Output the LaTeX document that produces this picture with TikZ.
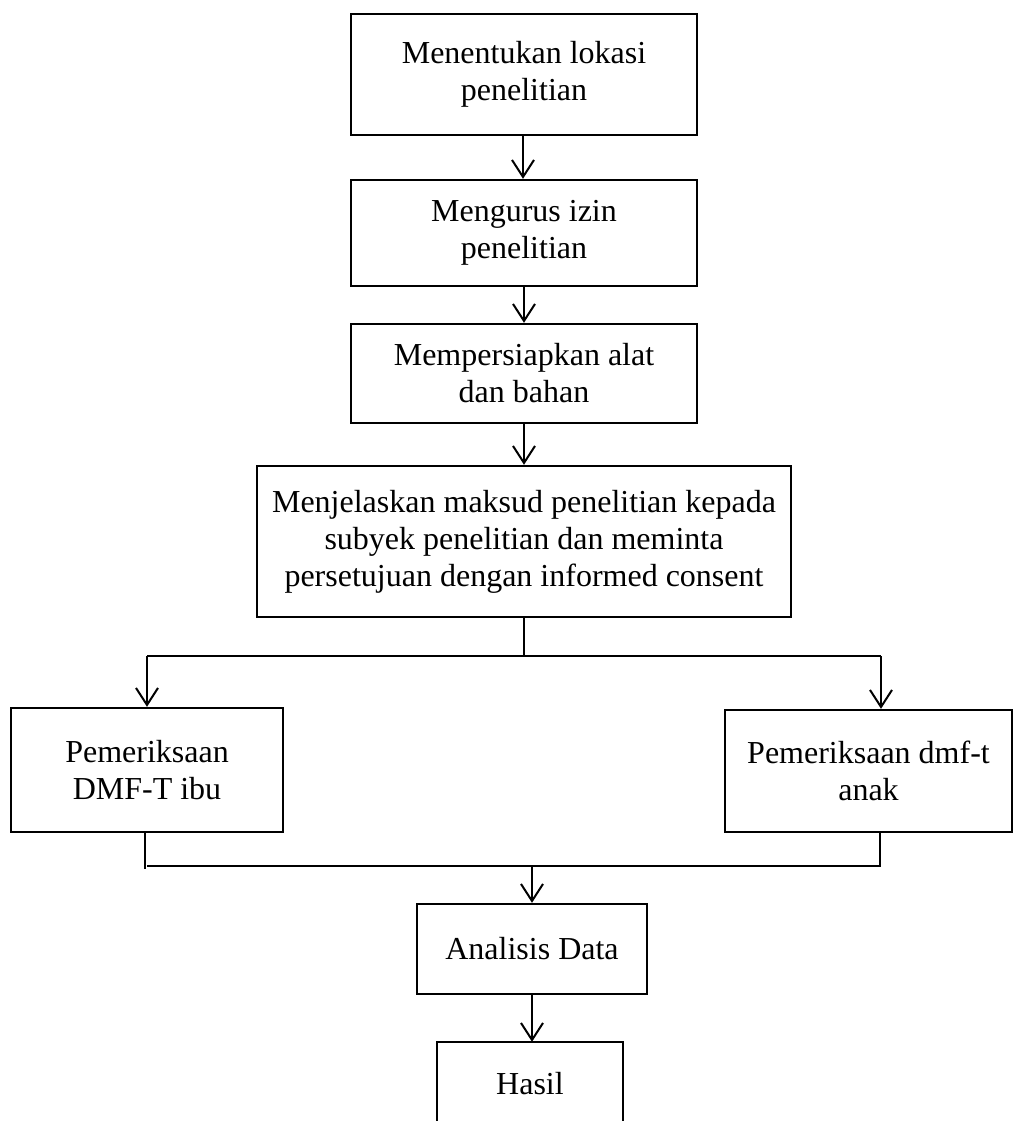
\documentclass[tikz,border=0pt]{standalone}
\usepackage{fontspec}
\setmainfont{Liberation Serif}
\usetikzlibrary{arrows.meta}
\begin{document}
\begin{tikzpicture}[x=1pt,y=-1pt,
  box/.style={draw,line width=2.4pt,inner sep=0pt,align=center,
    font=\fontsize{32pt}{37pt}\selectfont},
  openbox/.style={inner sep=0pt,align=center,
    font=\fontsize{32pt}{37pt}\selectfont},
  conn/.style={line width=2pt},
  arr/.style={line width=2pt,-{Straight Barb[length=17pt,width=22pt,line width=2pt]}}]
\useasboundingbox (0,0) rectangle (1014,1121);
% boxes
\node[box,minimum width=346pt,minimum height=121pt] (b1) at (524,74.5) {Menentukan lokasi\\penelitian};
\node[box,minimum width=346pt,minimum height=106pt] (b2) at (524,233) {Mengurus izin\\penelitian};
\node[box,minimum width=346pt,minimum height=99pt] (b3) at (524,373.5) {Mempersiapkan alat\\dan bahan};
\node[box,minimum width=534pt,minimum height=151pt] (b4) at (524,541.5) {Menjelaskan maksud penelitian kepada\\subyek penelitian dan meminta\\persetujuan dengan informed consent};
\node[box,minimum width=272pt,minimum height=124pt] (b5) at (147,770) {Pemeriksaan\\DMF-T ibu};
\node[box,minimum width=287pt,minimum height=122pt] (b6) at (868.5,771) {Pemeriksaan dmf-t\\anak};
\node[box,minimum width=230pt,minimum height=90pt] (b7) at (532,949) {Analisis Data};
\node[openbox,minimum width=186pt,minimum height=83pt] (b8) at (530,1083.5) {Hasil};
\draw[line width=2.4pt] (b8.south west) -- (b8.north west) -- (b8.north east) -- (b8.south east);
% junction coordinates
\coordinate (sp) at (524,656);
\coordinate (lj) at (147,656);
\coordinate (rj) at (881,656);
\coordinate (lb) at (145,869);
\coordinate (lh) at (147,866);
\coordinate (rb) at (880,866);
\coordinate (mj) at (532,866);
% connectors
\draw[arr] (b1.south -| 523,0) -- (b2.north -| 523,0);
\draw[arr] (b2) ++(0,53) coordinate (b2s) (b2.south) -- (b3.north);
\draw[arr] (b3.south) -- (b4.north);
\draw[conn] (b4.south) -- (sp);
\draw[conn] (lj) -- (rj);
\draw[arr] (lj) -- (lj |- b5.north);
\draw[arr] (rj) -- (rj |- b6.north);
\draw[conn] (lb |- b5.south) -- (lb);
\draw[conn] (rb |- b6.south) -- (rb) -- (lh);
\draw[arr] (mj) -- (b7.north);
\draw[arr] (b7.south) -- (b8.north -| b7.south);
\end{tikzpicture}
\end{document}
